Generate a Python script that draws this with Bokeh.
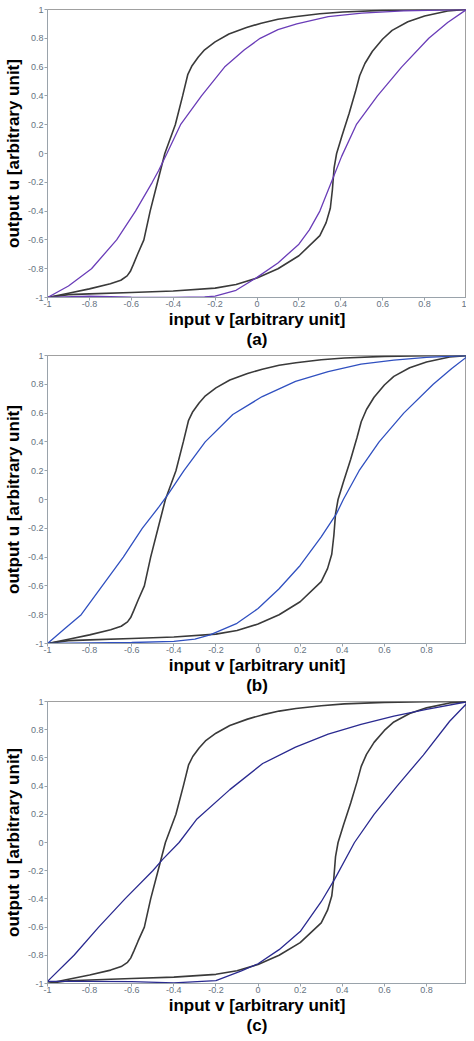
from bokeh.plotting import figure
from bokeh.models import FixedTicker, Range1d
from bokeh.layouts import column
from bokeh.embed import file_html
from bokeh.resources import INLINE

# ---------------- data ----------------
TICKS = [-1, -0.8, -0.6, -0.4, -0.2, 0, 0.2, 0.4, 0.6, 0.8, 1]
TICK_LABELS = ["-1", "-0.8", "-0.6", "-0.4", "-0.2", "0", "0.2", "0.4", "0.6", "0.8", "1"]

# measured loop (black) - left branch
BLK_L_X = [-1, -0.9, -0.8, -0.7, -0.65, -0.62, -0.605, -0.59, -0.57, -0.54, -0.51, -0.475,
           -0.44, -0.39, -0.355, -0.33, -0.31, -0.28, -0.25, -0.2, -0.134, -0.05, 0.02, 0.1,
           0.18, 0.3, 0.41, 0.6, 0.8, 1]
BLK_L_Y = [-1, -0.97, -0.94, -0.905, -0.88, -0.85, -0.82, -0.77, -0.70, -0.6, -0.4, -0.2,
           0, 0.2, 0.4, 0.55, 0.61, 0.67, 0.72, 0.775, 0.83, 0.875, 0.905, 0.932,
           0.95, 0.97, 0.983, 0.994, 0.998, 1]
# measured loop (black) - right branch
BLK_R_X = [-1, -0.9, -0.8, -0.6, -0.4, -0.2, -0.1, 0, 0.1, 0.2, 0.3, 0.33, 0.35, 0.36,
           0.368, 0.38, 0.405, 0.44, 0.47, 0.49, 0.515, 0.551, 0.6, 0.645, 0.72, 0.8, 0.91, 1]
BLK_R_Y = [-1, -0.98, -0.975, -0.965, -0.955, -0.935, -0.91, -0.865, -0.80, -0.71, -0.57,
           -0.48, -0.38, -0.25, -0.1, 0, 0.12, 0.28, 0.43, 0.54, 0.625, 0.71, 0.795, 0.855,
           0.915, 0.955, 0.99, 1]

# model (a)
A_L_X = [-1, -0.9, -0.79, -0.67, -0.58, -0.5, -0.47, -0.43, -0.365, -0.265, -0.155, -0.06,
         0.015, 0.1, 0.19, 0.34, 0.5, 0.7, 1]
A_L_Y = [-1, -0.92, -0.8, -0.6, -0.4, -0.2, -0.12, 0, 0.2, 0.4, 0.6, 0.72,
         0.8, 0.86, 0.9, 0.95, 0.975, 0.99, 1]
A_R_X = [-1, -0.8, -0.6, -0.4, -0.25, -0.2, -0.1, 0, 0.1, 0.2, 0.25, 0.3, 0.36, 0.404,
         0.474, 0.575, 0.69, 0.82, 0.91, 1]
A_R_Y = [-1, -0.99, -0.997, -1.0, -0.995, -0.99, -0.95, -0.86, -0.76, -0.63, -0.53, -0.4,
         -0.18, -0.02, 0.2, 0.4, 0.6, 0.8, 0.91, 1]

# model (b)
B_L_X = [-1, -0.92, -0.84, -0.74, -0.64, -0.55, -0.47, -0.43, -0.352, -0.251, -0.12, 0.02,
         0.178, 0.333, 0.489, 0.645, 0.8, 1]
B_L_Y = [-1, -0.9, -0.8, -0.6, -0.4, -0.2, -0.05, 0.03, 0.2, 0.4, 0.59, 0.715,
         0.82, 0.888, 0.94, 0.968, 0.987, 1]
B_R_X = [-1, -0.8, -0.6, -0.4, -0.3, -0.228, -0.1, 0, 0.1, 0.2, 0.3, 0.372, 0.405, 0.48,
         0.575, 0.692, 0.832, 0.92, 1]
B_R_Y = [-1, -0.995, -0.993, -0.985, -0.97, -0.94, -0.86, -0.757, -0.62, -0.458, -0.26,
         -0.1, 0, 0.2, 0.4, 0.6, 0.8, 0.91, 1]

# model (c)
C_L_X = [-1, -0.874, -0.757, -0.632, -0.5, -0.453, -0.375, -0.29, -0.134, 0.022, 0.178,
         0.333, 0.489, 0.645, 0.8, 1]
C_L_Y = [-0.985, -0.8, -0.6, -0.4, -0.2, -0.12, 0, 0.167, 0.375, 0.56, 0.676,
         0.769, 0.838, 0.896, 0.944, 1]
C_R_X = [-1, -0.8, -0.6, -0.4, -0.2, -0.079, 0, 0.1, 0.2, 0.3, 0.364, 0.458, 0.551,
         0.66, 0.785, 0.91, 1]
C_R_Y = [-0.985, -0.985, -0.986, -0.995, -0.98, -0.91, -0.86, -0.76, -0.632, -0.42, -0.26,
         0, 0.2, 0.4, 0.62, 0.86, 1]

FONT = "Liberation Sans"
TICK_COLOR = "#66737f"
AXIS_COLOR = "#9aa3ab"


def panel(lx, ly, rx, ry, color, tag, x_end, xticks, height, top):
    p = figure(width=466, height=height, output_backend="svg", toolbar_location=None,
               x_range=Range1d(-1, x_end), y_range=Range1d(-1, 1),
               min_border_top=top, min_border_right=0, min_border_left=0,
               min_border_bottom=0)
    p.grid.visible = False
    p.outline_line_color = "#a0a0a0"
    p.background_fill_color = "white"
    p.border_fill_color = "white"

    p.line(BLK_L_X, BLK_L_Y, line_color="#3a3a3a", line_width=1.6)
    p.line(BLK_R_X, BLK_R_Y, line_color="#3a3a3a", line_width=1.6)
    p.line(lx, ly, line_color=color, line_width=1.3)
    p.line(rx, ry, line_color=color, line_width=1.3)

    p.xaxis.ticker = FixedTicker(ticks=xticks)
    p.yaxis.ticker = FixedTicker(ticks=TICKS)
    p.xaxis.major_label_overrides = {t: l for t, l in zip(TICKS, TICK_LABELS)}
    p.yaxis.major_label_overrides = {t: l for t, l in zip(TICKS, TICK_LABELS)}
    for ax in (p.xaxis, p.yaxis):
        ax.axis_line_color = AXIS_COLOR
        ax.major_tick_line_color = AXIS_COLOR
        ax.major_tick_in = 0
        ax.major_tick_out = 3
        ax.minor_tick_line_color = None
        ax.major_label_text_font = FONT
        ax.major_label_text_font_size = "9px"
        ax.major_label_text_color = TICK_COLOR
        ax.major_label_standoff = 1
        ax.axis_label_text_font = FONT
        ax.axis_label_text_font_size = "17px"
        ax.axis_label_text_font_style = "bold"
        ax.axis_label_text_color = "black"
    p.yaxis.axis_label_standoff = 2
    p.xaxis.major_label_standoff = 0
    p.xaxis.axis_label_standoff = 0
    p.xaxis.axis_label = "input v [arbitrary unit]\n" + tag
    p.xaxis.axis_label_text_line_height = 1.1
    p.yaxis.axis_label = "output u [arbitrary unit]"
    return p


pa = panel(A_L_X, A_L_Y, A_R_X, A_R_Y, "#6a3db8", "(a)", 1.0, TICKS, 352, 9)
pb = panel(B_L_X, B_L_Y, B_R_X, B_R_Y, "#3050c0", "(b)", 0.99, TICKS[:-1], 346, 3)
pc = panel(C_L_X, C_L_Y, C_R_X, C_R_Y, "#2a2a90", "(c)", 0.99, TICKS[:-1], 340, 3)

layout = column(pa, pb, pc, spacing=0)
open("out.html", "w").write(file_html(layout, INLINE))
